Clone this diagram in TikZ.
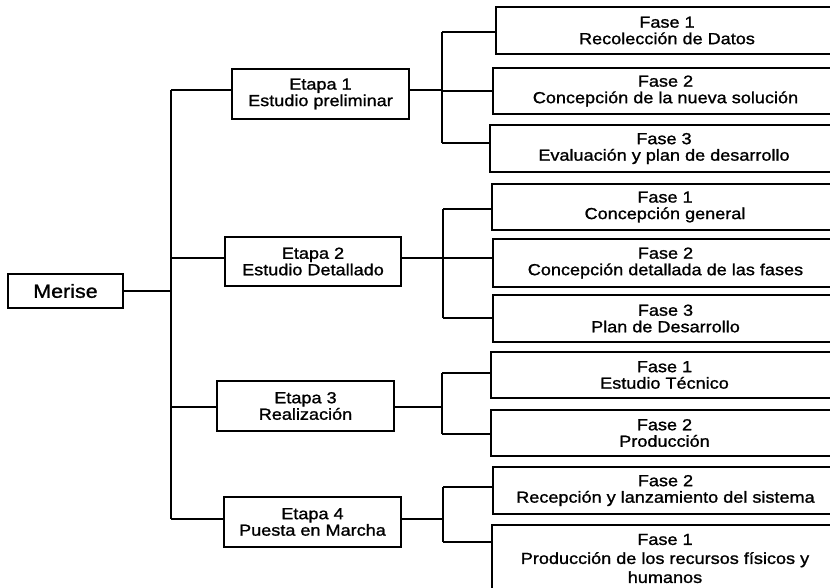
\documentclass[tikz,border=0pt]{standalone}
\usepackage{fontspec}
\setmainfont{Liberation Sans}[FakeStretch=1.13, FakeBold=1.2]
\begin{document}
\begin{tikzpicture}[x=1pt,y=-1pt,
  box/.style={draw, line width=1.3pt, inner sep=0pt, align=center,
    font=\fontsize{16}{16.5}\selectfont},
  link/.style={line width=1.3pt}]
\useasboundingbox (0,0) rectangle (830,588);
\clip (0,0) rectangle (830,588);

% root
\node[box, minimum width=115pt, minimum height=34pt,
  font=\fontsize{19}{20}\selectfont] (merise) at (65.5,291) {Merise};

% stages
\node[box, minimum width=177pt, minimum height=50pt] (e1) at (320.5,94) {Etapa 1\\Estudio preliminar};
\node[box, minimum width=176pt, minimum height=49pt] (e2) at (313,261.5) {Etapa 2\\Estudio Detallado};
\node[box, minimum width=177pt, minimum height=50pt] (e3) at (305.5,406) {Etapa 3\\Realización};
\node[box, minimum width=177pt, minimum height=50pt] (e4) at (312.5,522) {Etapa 4\\Puesta en Marcha};

% phases (boxes run on past the right edge)
\node[box, minimum width=342pt, minimum height=47pt] (f11) at (667,30.5) {Fase 1\\Recolección de Datos};
\node[box, minimum width=345pt, minimum height=46pt] (f12) at (665.5,91) {Fase 2\\Concepción de la nueva solución};
\node[box, minimum width=348pt, minimum height=47pt] (f13) at (664,148.5) {Fase 3\\Evaluación y plan de desarrollo};

\node[box, minimum width=346pt, minimum height=46pt] (f21) at (665,207) {Fase 1\\Concepción general};
\node[box, minimum width=345pt, minimum height=48pt] (f22) at (665.5,263) {Fase 2\\Concepción detallada de las fases};
\node[box, minimum width=345pt, minimum height=47pt] (f23) at (665.5,318.5) {Fase 3\\Plan de Desarrollo};

\node[box, minimum width=347pt, minimum height=46pt] (f31) at (664.5,375) {Fase 1\\Estudio Técnico};
\node[box, minimum width=347pt, minimum height=46pt] (f32) at (664.5,433) {Fase 2\\Producción};

\node[box, minimum width=345pt, minimum height=47pt] (f41) at (665.5,490.5) {Fase 2\\Recepción y lanzamiento del sistema};
\node[box, minimum width=346pt, minimum height=67pt, font=\fontsize{16}{19}\selectfont] (f42) at (665,558.5) {Fase 1\\Producción de los recursos físicos y\\humanos};

% trunk from the root to the stages
\coordinate (t0) at (171,291);
\coordinate (t1) at (171,90);
\coordinate (t2) at (171,258);
\coordinate (t3) at (171,407);
\coordinate (t4) at (171,519);
\draw[link] (merise.east |- t0) -- (t0);
\draw[link] (t1) -- (t4);
\draw[link] (t1) -- (t1 -| e1.west);
\draw[link] (t2) -- (t2 -| e2.west);
\draw[link] (t3) -- (t3 -| e3.west);
\draw[link] (t4) -- (t4 -| e4.west);

% stage 1 branches
\coordinate (b1) at (442,90);
\coordinate (b11) at (442,32);
\coordinate (b12) at (442,91);
\coordinate (b13) at (442,143);
\draw[link] (b1 -| e1.east) -- (b1);
\draw[link] (b11) -- (b13);
\draw[link] (b11) -- (b11 -| f11.west);
\draw[link] (b12) -- (b12 -| f12.west);
\draw[link] (b13) -- (b13 -| f13.west);

% stage 2 branches
\coordinate (b2) at (443,258);
\coordinate (b21) at (443,209);
\coordinate (b22) at (443,258);
\coordinate (b23) at (443,318);
\draw[link] (b2 -| e2.east) -- (b2);
\draw[link] (b21) -- (b23);
\draw[link] (b21) -- (b21 -| f21.west);
\draw[link] (b22) -- (b22 -| f22.west);
\draw[link] (b23) -- (b23 -| f23.west);

% stage 3 branches
\coordinate (b3) at (442,407);
\coordinate (b31) at (442,373);
\coordinate (b32) at (442,434);
\draw[link] (b3 -| e3.east) -- (b3);
\draw[link] (b31) -- (b32);
\draw[link] (b31) -- (b31 -| f31.west);
\draw[link] (b32) -- (b32 -| f32.west);

% stage 4 branches
\coordinate (b4) at (443,519);
\coordinate (b41) at (443,487);
\coordinate (b42) at (443,542);
\draw[link] (b4 -| e4.east) -- (b4);
\draw[link] (b41) -- (b42);
\draw[link] (b41) -- (b41 -| f41.west);
\draw[link] (b42) -- (b42 -| f42.west);
\end{tikzpicture}
\end{document}
